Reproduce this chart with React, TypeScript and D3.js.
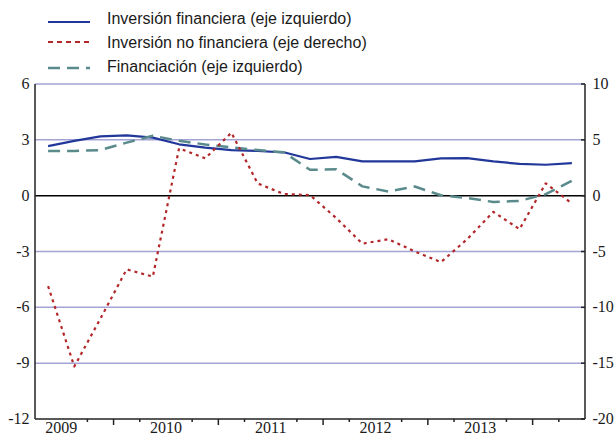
import React, { useEffect, useRef } from 'react';
import * as d3 from 'd3';

const width = 615;
const height = 434;
const margin = { top: 84, right: 30, bottom: 15, left: 35 };

// quarterly, 2009 Q1 .. 2014 Q1
const yearLabels = ['2009', '2010', '2011', '2012', '2013'];
const leftTicks = [6, 3, 0, -3, -6, -9, -12];
const rightTicks = [10, 5, 0, -5, -10, -15, -20];

const financialInvestment = [
  2.66, 2.94, 3.19, 3.24, 3.12, 2.76, 2.58, 2.45, 2.4, 2.33, 1.97, 2.08, 1.84,
  1.84, 1.84, 2.0, 2.02, 1.84, 1.71, 1.66, 1.75,
];
const nonFinancialInvestment = [
  -8.1, -15.3, -11.0, -6.6, -7.25, 4.24, 3.35, 5.64, 1.1, 0.15, 0.05, -2.0,
  -4.3, -3.9, -5.0, -5.95, -3.9, -1.45, -3.0, 1.1, -0.7,
];
const financing = [
  2.4, 2.4, 2.45, 2.85, 3.22, 2.95, 2.75, 2.6, 2.45, 2.33, 1.39, 1.42, 0.5,
  0.22, 0.49, 0.02, -0.12, -0.34, -0.28, 0.08, 0.8,
];

const legendItems = [
  { label: 'Inversión financiera (eje izquierdo)', color: '#22379a', dash: null, legendDash: null, width: 2.2 },
  { label: 'Inversión no financiera (eje derecho)', color: '#b3272b', dash: '3,4', legendDash: '5,4', width: 2.2 },
  { label: 'Financiación (eje izquierdo)', color: '#5a8a8c', dash: '12,7', legendDash: '12,7', width: 2.5 },
];

export default function App() {
  const ref = useRef<SVGSVGElement>(null);

  useEffect(() => {
    if (!ref.current) return;
    const root = d3.select(ref.current);
    root.selectAll('*').remove();

    const plotRight = width - margin.right;
    const plotBottom = height - margin.bottom;
    const n = financialInvestment.length;

    const x = d3.scaleLinear().domain([0, n]).range([margin.left, plotRight]);
    const yL = d3.scaleLinear().domain([-12, 6]).range([plotBottom, margin.top]);
    const yR = d3.scaleLinear().domain([-20, 10]).range([plotBottom, margin.top]);

    // gridlines
    root
      .append('g')
      .selectAll('line')
      .data(leftTicks.filter((d) => d !== 0 && d !== -12))
      .enter()
      .append('line')
      .attr('x1', margin.left)
      .attr('x2', plotRight)
      .attr('y1', (d) => yL(d))
      .attr('y2', (d) => yL(d))
      .attr('stroke', '#a3a3d6')
      .attr('stroke-width', 1.5);

    // zero line
    root
      .append('line')
      .attr('x1', margin.left)
      .attr('x2', plotRight)
      .attr('y1', yL(0))
      .attr('y2', yL(0))
      .attr('stroke', '#000')
      .attr('stroke-width', 1.5);

    // axes frame
    const frame = root.append('g').attr('stroke', '#222').attr('stroke-width', 1.5);
    frame
      .append('line')
      .attr('x1', margin.left)
      .attr('x2', margin.left)
      .attr('y1', margin.top)
      .attr('y2', plotBottom);
    frame
      .append('line')
      .attr('x1', plotRight)
      .attr('x2', plotRight)
      .attr('y1', margin.top)
      .attr('y2', plotBottom);
    frame
      .append('line')
      .attr('x1', margin.left)
      .attr('x2', plotRight)
      .attr('y1', plotBottom)
      .attr('y2', plotBottom);

    // right axis ticks (inward)
    frame
      .selectAll('.rt')
      .data(rightTicks)
      .enter()
      .append('line')
      .attr('x1', plotRight - 4)
      .attr('x2', plotRight)
      .attr('y1', (d) => yR(d))
      .attr('y2', (d) => yR(d));

    // x ticks: every quarter, long at mid-year, none under the labels
    const labelIdx = yearLabels.map((_, i) => 1 + 4 * i);
    const tickIdx = d3.range(1, n).filter((i) => !labelIdx.includes(i));
    frame
      .selectAll('.xt')
      .data(tickIdx)
      .enter()
      .append('line')
      .attr('x1', (d) => x(d))
      .attr('x2', (d) => x(d))
      .attr('y1', plotBottom)
      .attr('y2', (d) => plotBottom + ((d - 3) % 4 === 0 ? 6 : 3));

    const tickText = root
      .append('g')
      .attr('font-family', '"Liberation Serif", "Times New Roman", serif')
      .attr('font-size', 16)
      .attr('fill', '#1a1a1a');

    tickText
      .selectAll('.lt')
      .data(leftTicks)
      .enter()
      .append('text')
      .attr('x', 29.5)
      .attr('y', (d) => yL(d) + 5)
      .attr('text-anchor', 'end')
      .text((d) => d);

    tickText
      .selectAll('.rl')
      .data(rightTicks)
      .enter()
      .append('text')
      .attr('x', 592.5)
      .attr('y', (d) => yR(d) + 5)
      .text((d) => d);

    tickText
      .selectAll('.xl')
      .data(yearLabels)
      .enter()
      .append('text')
      .attr('x', (_, i) => x(labelIdx[i]))
      .attr('y', 433)
      .attr('text-anchor', 'middle')
      .text((d) => d);

    // series
    const lineL = d3
      .line<number>()
      .x((_, i) => x(i + 0.5))
      .y((d) => yL(d));
    const lineR = d3
      .line<number>()
      .x((_, i) => x(i + 0.5))
      .y((d) => yR(d));

    const series = [
      { data: financialInvestment, gen: lineL, style: legendItems[0] },
      { data: financing, gen: lineL, style: legendItems[2] },
      { data: nonFinancialInvestment, gen: lineR, style: legendItems[1] },
    ];

    series.forEach((s) => {
      root
        .append('path')
        .attr('d', s.gen(s.data) ?? '')
        .attr('fill', 'none')
        .attr('stroke', s.style.color)
        .attr('stroke-width', s.style.width)
        .attr('stroke-dasharray', s.style.dash ?? null)
        .attr('stroke-linejoin', 'round');
    });

    // legend
    const legend = root.append('g');
    const rowY = [22, 42, 68];
    const textY = [23.5, 47.5, 72];
    legendItems.forEach((item, i) => {
      legend
        .append('line')
        .attr('x1', 48)
        .attr('x2', 90)
        .attr('y1', rowY[i])
        .attr('y2', rowY[i])
        .attr('stroke', item.color)
        .attr('stroke-width', item.width)
        .attr('stroke-dasharray', item.legendDash ?? null);
      legend
        .append('text')
        .attr('x', 107)
        .attr('y', textY[i])
        .attr('font-family', '"Liberation Sans", Arial, sans-serif')
        .attr('font-size', 16)
        .attr('fill', '#1a1a1a')
        .text(item.label);
    });
  }, []);

  return (
    <svg
      ref={ref}
      width={width}
      height={height}
      style={{ position: 'absolute', left: 0, top: 0, background: '#fff' }}
    />
  );
}
